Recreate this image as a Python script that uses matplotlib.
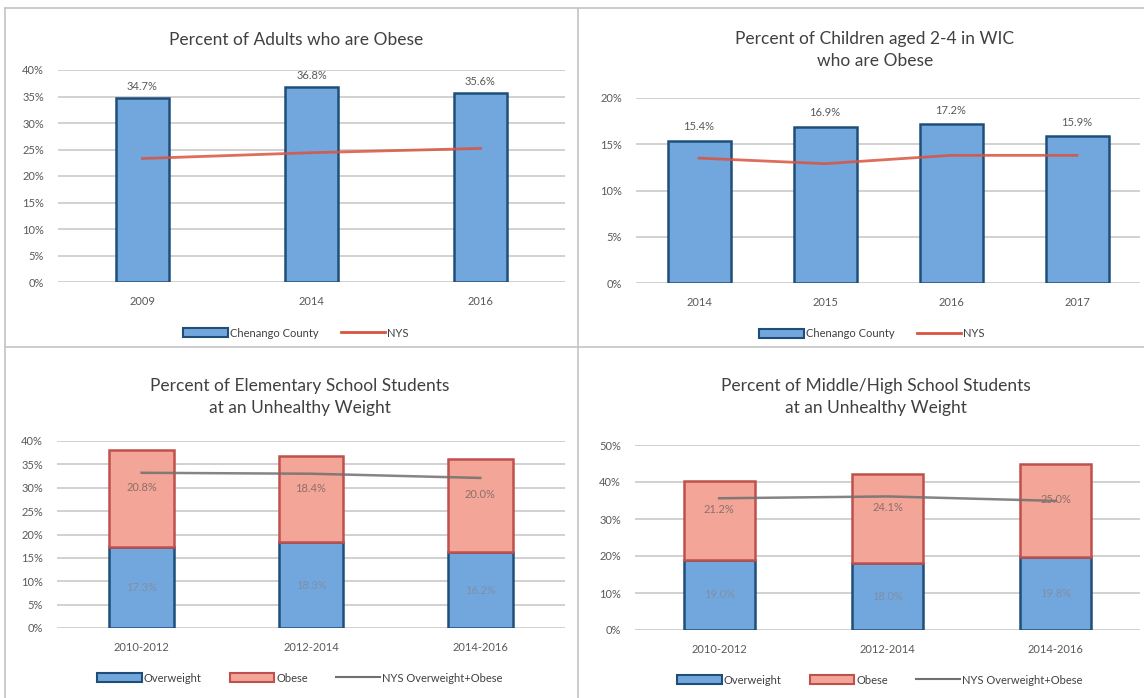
import matplotlib.pyplot as plt
from matplotlib.lines import Line2D
from matplotlib.patches import Patch

plt.rcParams['font.family'] = ['Lato', 'DejaVu Sans']

# ---- data ----
adult_years = ['2009', '2014', '2016']
adult_county = [34.7, 36.8, 35.6]
adult_nys = [23.3, 24.4, 25.2]

wic_years = ['2014', '2015', '2016', '2017']
wic_county = [15.4, 16.9, 17.2, 15.9]
wic_nys = [13.5, 12.9, 13.8, 13.8]

school_years = ['2010-2012', '2012-2014', '2014-2016']
elem_overweight = [17.3, 18.3, 16.2]
elem_obese = [20.8, 18.4, 20.0]
elem_nys = [33.2, 33.0, 32.1]

mid_overweight = [19.0, 18.0, 19.8]
mid_obese = [21.2, 24.1, 25.0]
mid_nys = [35.6, 36.1, 34.9]

BLUE = '#72a7de'
BLUE_EDGE = '#1f4e79'
PINK = '#f3a697'
PINK_EDGE = '#c0504d'
RED_LINE = '#d9543f'
GRAY_LINE = '#707070'
TXT = '#404040'
TICK = '#595959'
W, H = 1144, 698


def box(l, t, r, b):
    return [l / W, 1 - b / H, (r - l) / W, (b - t) / H]


def style(ax, n, ymax, step):
    ax.set_xlim(-0.5, n - 0.5)
    ax.set_ylim(0, ymax)
    ax.set_yticks(range(0, ymax + 1, step))
    ax.set_yticklabels([f'{v}%' for v in range(0, ymax + 1, step)])
    ax.yaxis.grid(True, color='#c9c9c9', linewidth=1.2)
    ax.set_axisbelow(True)
    for s in ax.spines.values():
        s.set_visible(False)
    ax.tick_params(length=0, labelsize=8, labelcolor=TICK)
    ax.tick_params(axis='x', pad=10)
    ax.tick_params(axis='y', pad=10)


fig = plt.figure(figsize=(W / 100, H / 100), dpi=100)

# panel frame lines
frame = dict(color='#c4c4c4', linewidth=1.2)
fig.add_artist(Line2D([5 / W, 5 / W], [0, 1 - 8 / H], **frame))
fig.add_artist(Line2D([5 / W, 1], [1 - 8 / H, 1 - 8 / H], **frame))
fig.add_artist(Line2D([578 / W, 578 / W], [0, 1 - 8 / H], **frame))
fig.add_artist(Line2D([5 / W, 1], [1 - 347 / H, 1 - 347 / H], **frame))

leg_kw = dict(loc='center', frameon=False, fontsize=8, labelcolor=TXT, handlelength=4,
              handleheight=0.9, handletextpad=0.2)

# ---- top left: adults ----
ax1 = fig.add_axes(box(58, 70, 565, 282))
x = range(len(adult_years))
bars = ax1.bar(x, adult_county, width=0.31, color=BLUE, edgecolor=BLUE_EDGE, linewidth=1.8)
ax1.plot(x, adult_nys, color=RED_LINE, linewidth=2, alpha=0.85)
for b, v in zip(bars, adult_county):
    ax1.text(b.get_x() + b.get_width() / 2, v + 1.2, f'{v}%', ha='center', va='bottom',
             fontsize=8, color=TICK)
ax1.set_xticks(list(x))
ax1.set_xticklabels(adult_years)
style(ax1, 3, 40, 5)
fig.text(296 / W, 1 - 40 / H, 'Percent of Adults who are Obese', ha='center', va='center',
         fontsize=12.5, color=TXT)
fig.legend(handles=[Patch(facecolor=BLUE, edgecolor=BLUE_EDGE, linewidth=1.5, label='Chenango County'),
                    Line2D([], [], color=RED_LINE, linewidth=2, label='NYS')],
           bbox_to_anchor=(296 / W, 1 - 333 / H), ncol=2, columnspacing=2, **leg_kw)

# ---- top right: WIC children ----
ax2 = fig.add_axes(box(636, 98, 1140, 283))
x = range(len(wic_years))
bars = ax2.bar(x, wic_county, width=0.5, color=BLUE, edgecolor=BLUE_EDGE, linewidth=1.8)
ax2.plot(x, wic_nys, color=RED_LINE, linewidth=2, alpha=0.85)
for b, v in zip(bars, wic_county):
    ax2.text(b.get_x() + b.get_width() / 2, v + 0.9, f'{v}%', ha='center', va='bottom',
             fontsize=8, color=TICK)
ax2.set_xticks(list(x))
ax2.set_xticklabels(wic_years)
style(ax2, 4, 20, 5)
fig.text(875 / W, 1 - 50 / H, 'Percent of Children aged 2-4 in WIC\nwho are Obese', ha='center',
         va='center', fontsize=12.5, color=TXT, linespacing=1.5)
fig.legend(handles=[Patch(facecolor=BLUE, edgecolor=BLUE_EDGE, linewidth=1.5, label='Chenango County'),
                    Line2D([], [], color=RED_LINE, linewidth=2, label='NYS')],
           bbox_to_anchor=(872 / W, 1 - 334 / H), ncol=2, columnspacing=2, **leg_kw)


def stacked(ax, over, obese, nys, width, ymax, step):
    x = range(len(school_years))
    ax.bar(x, over, width=width, color=BLUE, edgecolor=BLUE_EDGE, linewidth=1.8)
    ax.bar(x, obese, width=width, bottom=over, color=PINK, edgecolor=PINK_EDGE, linewidth=1.8)
    ax.plot(x, nys, color=GRAY_LINE, linewidth=1.8, alpha=0.85)
    for i in x:
        ax.text(i, over[i] / 2, f'{over[i]}%', ha='center', va='center', fontsize=8, color='#7f8fa6')
        ax.text(i, over[i] + obese[i] / 2 + ymax * 0.06, f'{obese[i]}%', ha='center', va='center',
                fontsize=8, color='#8c6f6a')
    ax.set_xticks(list(x))
    ax.set_xticklabels(school_years)
    style(ax, 3, ymax, step)


def school_legend(cx, cy):
    fig.legend(handles=[Patch(facecolor=BLUE, edgecolor=BLUE_EDGE, linewidth=1.5, label='Overweight'),
                        Patch(facecolor=PINK, edgecolor=PINK_EDGE, linewidth=1.5, label='Obese'),
                        Line2D([], [], color=GRAY_LINE, linewidth=1.5, label='NYS Overweight+Obese')],
               bbox_to_anchor=(cx / W, 1 - cy / H), ncol=3, columnspacing=2.5, **leg_kw)


# ---- bottom left: elementary ----
ax3 = fig.add_axes(box(57, 441, 565, 628))
stacked(ax3, elem_overweight, elem_obese, elem_nys, 0.38, 40, 5)
fig.text(300 / W, 1 - 397 / H, 'Percent of Elementary School Students\nat an Unhealthy Weight',
         ha='center', va='center', fontsize=12.5, color=TXT, linespacing=1.5)
school_legend(300, 678)

# ---- bottom right: middle/high ----
ax4 = fig.add_axes(box(635, 445, 1140, 630))
stacked(ax4, mid_overweight, mid_obese, mid_nys, 0.42, 50, 10)
fig.text(876 / W, 1 - 397 / H, 'Percent of Middle/High School Students\nat an Unhealthy Weight',
         ha='center', va='center', fontsize=12.5, color=TXT, linespacing=1.5)
school_legend(880, 680)

fig.savefig('out.png', dpi=100)
